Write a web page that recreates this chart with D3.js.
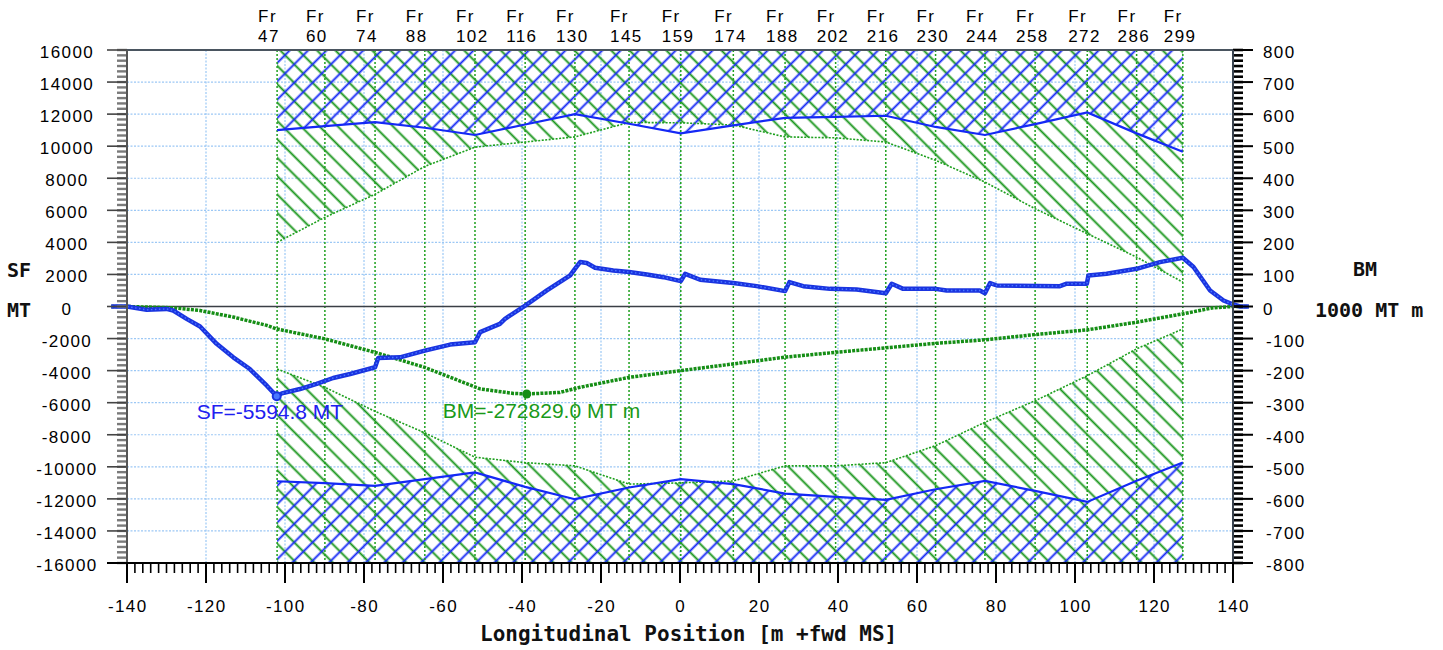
<!DOCTYPE html>
<html>
<head>
<meta charset="utf-8">
<script src="https://cdn.jsdelivr.net/npm/d3@7"></script>
<style>
  body { margin: 0; background: #fff; }
  .tick-label { font-family: "Liberation Sans", Arial, sans-serif; font-size: 17px; letter-spacing: 1.4px; fill: #000; }
  .axis-title { font-family: "DejaVu Sans Mono", monospace; font-weight: bold; fill: #111; }
</style>
</head>
<body>
<div id="chart"></div>
<script>
// Frames along the hull (x in m, +fwd of midship)
var frames = [47, 60, 74, 88, 102, 116, 130, 145, 159, 174, 188, 202, 216, 230, 244, 258, 272, 286, 299];
var frameX = [-102.0, -89.9, -77.2, -64.6, -51.9, -39.2, -26.6, -12.9, 0.2, 13.5, 26.6, 39.4, 52.1, 64.7, 77.2, 89.9, 103.1, 115.6, 127.3];

// Allowable limits at the frames
var sfUpper = [11000, 11250, 11500, 11150, 10700, 11350, 12000, 11400, 10800, 11300, 11770, 11830, 11900, 11200, 10700, 11380, 12100, 10800, 9650];
var sfLower = [-10900, -11020, -11190, -10770, -10350, -11250, -12020, -11290, -10770, -11080, -11670, -11875, -12060, -11400, -10875, -11500, -12190, -10875, -9730];
var bmUpper = [200, 278, 350, 437, 497, 513, 529, 574, 573, 566, 529, 526, 513, 456, 388, 305, 227, 154, 76];
var bmLower = [-195, -252, -327, -394, -470, -487, -497, -554, -550, -544, -497, -497, -487, -434, -361, -294, -216, -132, -70];

// Shear force curve [x m, MT]
var sfCurve = [[-144,0],[-140,0],[-135,-210],[-130,-150],[-128.3,-250],[-124.9,-770],[-121.5,-1250],[-117.3,-2330],
  [-113.1,-3170],[-108.9,-3900],[-104.6,-4940],[-102.1,-5595],[-100.8,-5420],[-96.2,-5150],[-92,-4830],[-87.8,-4460],
  [-83.5,-4210],[-77.2,-3790],[-76.4,-3210],[-70.9,-3170],[-64.6,-2750],[-58.2,-2375],[-51.9,-2230],[-50.6,-1600],
  [-45.6,-1080],[-44.3,-770],[-39.2,60],[-33.7,1000],[-27.8,1940],[-26.6,2350],[-25.3,2770],[-23.6,2710],[-21.5,2420],
  [-16.9,2250],[-12.9,2150],[-8.4,2000],[-4.2,1830],[0.2,1580],[1.3,2040],[5.1,1670],[13.5,1460],[19.4,1270],
  [26.6,960],[27.7,1520],[31.2,1270],[38,1100],[44.7,1060],[52.1,830],[53.6,1420],[56.5,1100],[64.7,1100],
  [67.5,1000],[75.9,1000],[77.2,830],[78.5,1460],[80.2,1310],[96.2,1270],[97.9,1420],[103,1420],[103.4,1940],
  [108,2040],[115.6,2350],[121.5,2770],[127.3,3040],[130,2460],[134.2,1000],[137.6,375],[140.1,125],[141.8,0],[144,0]];

// Bending moment curve [x m, 1000 MT m]
var bmCurve = [[-144,0],[-140,0],[-128.3,-4],[-121.5,-12.5],[-113.1,-33],[-104.6,-59],[-102.1,-70],[-89.9,-101],
  [-77.2,-143],[-64.6,-190],[-50.6,-257],[-42.2,-271],[-38.8,-272.8],[-30.4,-268],[-25.3,-252],[-12.9,-221],
  [0.2,-200],[13.5,-179],[26.6,-158],[39.4,-143],[52.1,-129],[64.7,-115],[77.2,-104],[89.9,-87.5],[103,-73],
  [115.6,-49],[127.3,-23],[135,-4],[140,0],[144,0]];

var sfMax = {x: -102.1, v: -5594.8, text: "SF=-5594.8 MT"};
var bmMax = {x: -38.8, v: -272.829, text: "BM=-272829.0 MT m"};

var xTicks = d3.range(-140, 141, 20);
var yLeftTicks = d3.range(-16000, 16001, 2000);
var yRightTicks = d3.range(-800, 801, 100);

var width = 1443, height = 650;
var plot = {left: 127, right: 1233, top: 50, bottom: 563};

var svg = d3.select("#chart").append("svg")
    .attr("width", width)
    .attr("height", height);

var xScale = d3.scaleLinear().domain([-140, 140]).range([plot.left, plot.right]);
var yLeft = d3.scaleLinear().domain([-16000, 16000]).range([plot.bottom, plot.top]);
var yRight = d3.scaleLinear().domain([-800, 800]).range([plot.bottom, plot.top]);

var fmt = function(d) { return d < 0 ? "-" + Math.abs(d) : "" + d; };

// hatch patterns
var defs = svg.append("defs");
function hatch(id, color, angle) {
  var p = defs.append("pattern")
      .attr("id", id)
      .attr("patternUnits", "userSpaceOnUse")
      .attr("width", 13).attr("height", 13)
      .attr("patternTransform", "rotate(" + angle + ")");
  p.append("line")
      .attr("x1", 6.5).attr("y1", -1).attr("x2", 6.5).attr("y2", 14)
      .attr("stroke", color).attr("stroke-width", 1.9);
}
hatch("hatchGreen", "#17951a", -45);
hatch("hatchBlue", "#1428f5", 45);

// grid
svg.append("g").selectAll("line").data(xTicks.slice(1, -1)).enter().append("line")
    .attr("x1", d => xScale(d)).attr("x2", d => xScale(d))
    .attr("y1", plot.top).attr("y2", plot.bottom)
    .attr("stroke", "#9cc8f5").attr("stroke-width", 1.2).attr("stroke-dasharray", "2,1.5");
svg.append("g").selectAll("line").data(yLeftTicks.slice(1, -1).filter(d => d !== 0)).enter().append("line")
    .attr("x1", plot.left).attr("x2", plot.right)
    .attr("y1", d => yLeft(d)).attr("y2", d => yLeft(d))
    .attr("stroke", "#9cc8f5").attr("stroke-width", 1.2).attr("stroke-dasharray", "2,1.5");

// hatched limit areas
var idx = d3.range(frames.length);
var upperBM = d3.area().x(i => xScale(frameX[i])).y0(plot.top).y1(i => yRight(bmUpper[i]));
var upperSF = d3.area().x(i => xScale(frameX[i])).y0(plot.top).y1(i => yLeft(sfUpper[i]));
var lowerBM = d3.area().x(i => xScale(frameX[i])).y0(plot.bottom).y1(i => yRight(bmLower[i]));
var lowerSF = d3.area().x(i => xScale(frameX[i])).y0(plot.bottom).y1(i => yLeft(sfLower[i]));

svg.append("path").datum(idx).attr("d", upperBM).attr("fill", "url(#hatchGreen)");
svg.append("path").datum(idx).attr("d", lowerBM).attr("fill", "url(#hatchGreen)");
svg.append("path").datum(idx).attr("d", upperSF).attr("fill", "url(#hatchBlue)");
svg.append("path").datum(idx).attr("d", lowerSF).attr("fill", "url(#hatchBlue)");

// frame lines
svg.append("g").selectAll("line").data(frameX).enter().append("line")
    .attr("x1", d => xScale(d)).attr("x2", d => xScale(d))
    .attr("y1", plot.top).attr("y2", plot.bottom)
    .attr("stroke", "#1ea01e").attr("stroke-width", 1.5).attr("stroke-dasharray", "2,2");

// frame labels
var frLabels = svg.append("g").selectAll("text").data(idx).enter().append("text")
    .attr("class", "tick-label")
    .attr("x", i => xScale(frameX[i]) - 19);
frLabels.append("tspan").attr("y", 22).text("Fr");
frLabels.append("tspan").attr("x", i => xScale(frameX[i]) - 19).attr("y", 42).text(i => frames[i]);

// limit lines
var limLineSF = function(arr) { return d3.line().x(i => xScale(frameX[i])).y(i => yLeft(arr[i])); };
var limLineBM = function(arr) { return d3.line().x(i => xScale(frameX[i])).y(i => yRight(arr[i])); };
[bmUpper, bmLower].forEach(function(arr) {
  svg.append("path").datum(idx).attr("d", limLineBM(arr))
      .attr("fill", "none").attr("stroke", "#1ea01e").attr("stroke-width", 1.6).attr("stroke-dasharray", "2,1.5");
});
[sfUpper, sfLower].forEach(function(arr) {
  svg.append("path").datum(idx).attr("d", limLineSF(arr))
      .attr("fill", "none").attr("stroke", "#1428f5").attr("stroke-width", 2.2);
});

// border & zero line
svg.append("line").attr("x1", plot.left).attr("x2", plot.right).attr("y1", plot.top).attr("y2", plot.top)
    .attr("stroke", "#4a5560").attr("stroke-width", 2);
svg.append("line").attr("x1", plot.left).attr("x2", plot.right).attr("y1", yLeft(0)).attr("y2", yLeft(0))
    .attr("stroke", "#3a3f45").attr("stroke-width", 1.6);

// curves
var bmLine = d3.line().x(d => xScale(d[0])).y(d => yRight(d[1]));
var sfLine = d3.line().x(d => xScale(d[0])).y(d => yLeft(d[1]));
svg.append("path").datum(bmCurve).attr("d", bmLine)
    .attr("fill", "none").attr("stroke", "#158e15").attr("stroke-width", 3.5).attr("stroke-dasharray", "3,1.2");
svg.append("path").datum(sfCurve).attr("d", sfLine)
    .attr("fill", "none").attr("stroke", "#1a34e0").attr("stroke-width", 4.5).attr("stroke-linejoin", "round");
svg.append("path").datum(sfCurve).attr("d", sfLine)
    .attr("fill", "none").attr("stroke", "#4a78ff").attr("stroke-width", 1.4).attr("stroke-dasharray", "1.5,2.5");

// extreme markers & labels
svg.append("circle").attr("cx", xScale(sfMax.x)).attr("cy", yLeft(sfMax.v)).attr("r", 4)
    .attr("fill", "#4a78ff").attr("stroke", "#1a34e0").attr("stroke-width", 2);
svg.append("circle").attr("cx", xScale(bmMax.x)).attr("cy", yRight(bmMax.v)).attr("r", 4.5)
    .attr("fill", "#158e15");
svg.append("text").attr("x", xScale(sfMax.x) - 80).attr("y", yLeft(sfMax.v) + 22.5)
    .style("font-family", "Liberation Sans, Arial, sans-serif").style("font-size", "21px")
    .attr("fill", "#2020f0").text(sfMax.text);
svg.append("text").attr("x", xScale(bmMax.x) - 84).attr("y", yRight(bmMax.v) + 24.5)
    .style("font-family", "Liberation Sans, Arial, sans-serif").style("font-size", "21px")
    .attr("fill", "#1a9a1a").text(bmMax.text);

// left axis
var minorL = d3.range(-16000, 16001, 2000 / 6);
svg.append("g").selectAll("line").data(minorL).enter().append("line")
    .attr("x1", plot.left - 10).attr("x2", plot.left)
    .attr("y1", d => yLeft(d)).attr("y2", d => yLeft(d))
    .attr("stroke", "#7a7a7a").attr("stroke-width", 2.4);
svg.append("g").selectAll("line").data(yLeftTicks).enter().append("line")
    .attr("x1", plot.left - 20).attr("x2", plot.left)
    .attr("y1", d => yLeft(d)).attr("y2", d => yLeft(d))
    .attr("stroke", "#444").attr("stroke-width", 1.6);
svg.append("line").attr("x1", plot.left).attr("x2", plot.left).attr("y1", plot.top).attr("y2", plot.bottom)
    .attr("stroke", "#555").attr("stroke-width", 2);
svg.append("g").selectAll("text").data(yLeftTicks).enter().append("text")
    .attr("class", "tick-label")
    .attr("x", 67).attr("y", d => yLeft(d) + 8)
    .attr("text-anchor", "middle")
    .text(fmt);

// right axis
var minorR = d3.range(-800, 801, 100 / 6);
svg.append("g").selectAll("line").data(minorR).enter().append("line")
    .attr("x1", plot.right).attr("x2", plot.right + 10)
    .attr("y1", d => yRight(d)).attr("y2", d => yRight(d))
    .attr("stroke", "#000").attr("stroke-width", 2.6);
svg.append("g").selectAll("line").data(yRightTicks).enter().append("line")
    .attr("x1", plot.right).attr("x2", plot.right + 20)
    .attr("y1", d => yRight(d)).attr("y2", d => yRight(d))
    .attr("stroke", "#000").attr("stroke-width", 2);
svg.append("line").attr("x1", plot.right).attr("x2", plot.right).attr("y1", plot.top).attr("y2", plot.bottom)
    .attr("stroke", "#3a4450").attr("stroke-width", 2);
svg.append("g").selectAll("text").data(yRightTicks).enter().append("text")
    .attr("class", "tick-label")
    .attr("x", d => d < 0 ? 1266 : 1263).attr("y", d => yRight(d) + 8)
    .text(fmt);

// bottom axis
var minorX = d3.range(-140, 141, 2);
svg.append("g").selectAll("line").data(minorX).enter().append("line")
    .attr("x1", d => xScale(d)).attr("x2", d => xScale(d))
    .attr("y1", plot.bottom).attr("y2", plot.bottom + 10)
    .attr("stroke", "#000").attr("stroke-width", 1.6);
svg.append("g").selectAll("line").data(xTicks).enter().append("line")
    .attr("x1", d => xScale(d)).attr("x2", d => xScale(d))
    .attr("y1", plot.bottom).attr("y2", plot.bottom + 20)
    .attr("stroke", "#000").attr("stroke-width", 2);
svg.append("line").attr("x1", plot.left - 20).attr("x2", plot.right + 20).attr("y1", plot.bottom).attr("y2", plot.bottom)
    .attr("stroke", "#000").attr("stroke-width", 2);
svg.append("g").selectAll("text").data(xTicks).enter().append("text")
    .attr("class", "tick-label")
    .attr("x", d => xScale(d) + 0.7).attr("y", 612)
    .attr("text-anchor", "middle")
    .text(fmt);

// axis titles
svg.append("text").attr("class", "axis-title").style("font-size", "20px").attr("x", 7).attr("y", 277).text("SF");
svg.append("text").attr("class", "axis-title").style("font-size", "20px").attr("x", 7).attr("y", 317).text("MT");
svg.append("text").attr("class", "axis-title").style("font-size", "20px").attr("x", 1353).attr("y", 276).text("BM");
svg.append("text").attr("class", "axis-title").style("font-size", "20px").attr("x", 1315).attr("y", 317).text("1000 MT m");
svg.append("text").attr("class", "axis-title").style("font-size", "21px").attr("x", 480).attr("y", 641)
    .text("Longitudinal Position [m +fwd MS]");
</script>
</body>
</html>
